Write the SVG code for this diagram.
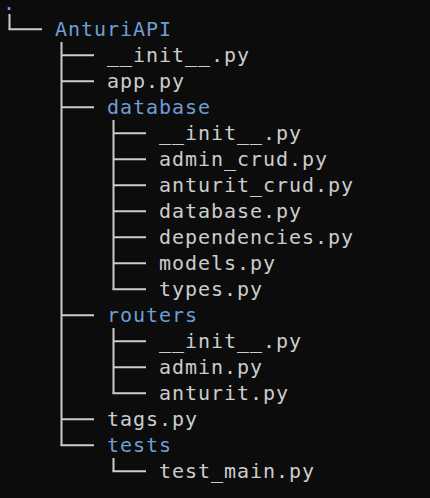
<svg xmlns="http://www.w3.org/2000/svg" width="430" height="498" viewBox="0 0 430 498">
<style>
text{font-family:"DejaVu Sans Mono","Liberation Mono",monospace;font-size:20px;letter-spacing:0.96px;fill:#cccccc}
.d{fill:#6f9dd6}
.c line{stroke:#cccccc;stroke-width:2;fill:none}
</style>
<rect width="430" height="498" fill="#0c0c0c"/>
<g class="c" id="connectors">
<line x1="9.5" y1="14" x2="9.5" y2="29.3"/><line x1="8.5" y1="29.3" x2="42" y2="29.3"/>
<line x1="61.5" y1="42" x2="61.5" y2="445.3"/>
<line x1="61.5" y1="55.3" x2="94" y2="55.3"/>
<line x1="61.5" y1="81.3" x2="94" y2="81.3"/>
<line x1="61.5" y1="107.3" x2="94" y2="107.3"/>
<line x1="61.5" y1="315.3" x2="94" y2="315.3"/>
<line x1="61.5" y1="419.3" x2="94" y2="419.3"/>
<line x1="60.5" y1="445.3" x2="94" y2="445.3"/>
<line x1="113.5" y1="120" x2="113.5" y2="289.3"/>
<line x1="113.5" y1="133.3" x2="146" y2="133.3"/>
<line x1="113.5" y1="159.3" x2="146" y2="159.3"/>
<line x1="113.5" y1="185.3" x2="146" y2="185.3"/>
<line x1="113.5" y1="211.3" x2="146" y2="211.3"/>
<line x1="113.5" y1="237.3" x2="146" y2="237.3"/>
<line x1="113.5" y1="263.3" x2="146" y2="263.3"/>
<line x1="112.5" y1="289.3" x2="146" y2="289.3"/>
<line x1="113.5" y1="328" x2="113.5" y2="393.3"/>
<line x1="113.5" y1="341.3" x2="146" y2="341.3"/>
<line x1="113.5" y1="367.3" x2="146" y2="367.3"/>
<line x1="112.5" y1="393.3" x2="146" y2="393.3"/>
<line x1="113.5" y1="458" x2="113.5" y2="471.3"/>
<line x1="112.5" y1="471.3" x2="146" y2="471.3"/>
</g>
<g id="root"><text class="d" x="3" y="9.8">.</text></g>
<g id="AnturiAPI"><text class="d" x="55" y="35.8">AnturiAPI</text></g>
<g id="init1"><text x="107" y="61.8">__init__.py</text></g>
<g id="app"><text x="107" y="87.8">app.py</text></g>
<g id="database"><text class="d" x="107" y="113.8">database</text></g>
<g id="db_init"><text x="159" y="139.8">__init__.py</text></g>
<g id="admin_crud"><text x="159" y="165.8">admin_crud.py</text></g>
<g id="anturit_crud"><text x="159" y="191.8">anturit_crud.py</text></g>
<g id="database_py"><text x="159" y="217.8">database.py</text></g>
<g id="dependencies"><text x="159" y="243.8">dependencies.py</text></g>
<g id="models"><text x="159" y="269.8">models.py</text></g>
<g id="types"><text x="159" y="295.8">types.py</text></g>
<g id="routers"><text class="d" x="107" y="321.8">routers</text></g>
<g id="r_init"><text x="159" y="347.8">__init__.py</text></g>
<g id="admin"><text x="159" y="373.8">admin.py</text></g>
<g id="anturit"><text x="159" y="399.8">anturit.py</text></g>
<g id="tags"><text x="107" y="425.8">tags.py</text></g>
<g id="tests"><text class="d" x="107" y="451.8">tests</text></g>
<g id="test_main"><text x="159" y="477.8">test_main.py</text></g>
</svg>
